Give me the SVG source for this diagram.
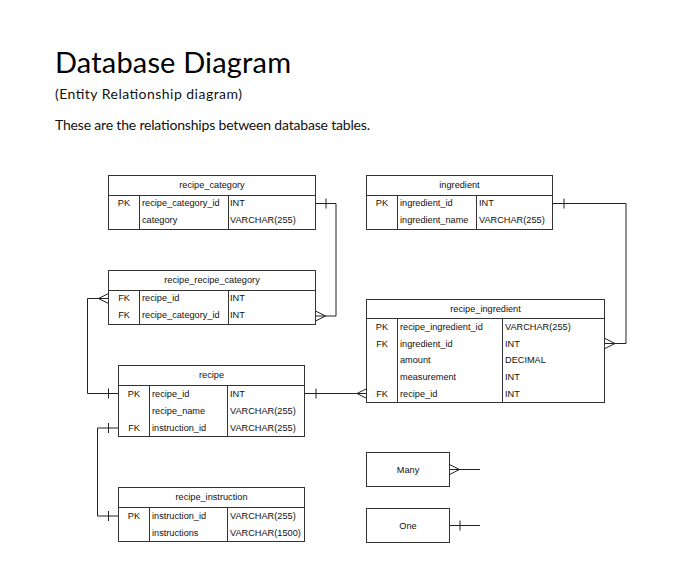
<svg xmlns="http://www.w3.org/2000/svg" width="699" height="583" viewBox="0 0 699 583">
<style>
.bg{fill:#ffffff}
.tb{fill:#ffffff;stroke:#333333;stroke-width:1}
.ln{stroke:#333333;stroke-width:1;fill:none}
.cn{stroke:#222222;stroke-width:1;fill:none}
.t{font-family:"Liberation Sans",Arial,sans-serif;font-size:9.2px;fill:#111111}
.c{text-anchor:middle}
.h1{font-family:Lato,"Open Sans",sans-serif;font-size:29px;fill:#000000}
.p{font-family:Lato,"Open Sans",sans-serif;font-size:14px;fill:#111111}
</style>
<rect class="bg" x="0" y="0" width="699" height="583"/>
<g id="title">
<text class="h1" x="55" y="73" textLength="236">Database Diagram</text>
<text class="p" x="55" y="99" textLength="187">(Entity Relationship diagram)</text>
<text class="p" x="55" y="130" textLength="315">These are the relationships between database tables.</text>
</g>
<g id="connectors">
<path class="cn" d="M315.5,203.5 H336 V316 H315.5"/>
<path class="cn" d="M326,198.5 V208.5"/>
<path class="cn" d="M315.5,311 L325.5,316 L315.5,321"/>
<path class="cn" d="M553,203.5 H626 V343.5 H605"/>
<path class="cn" d="M564,198.5 V208.5"/>
<path class="cn" d="M605,338.5 L615,343.5 L605,348.5"/>
<path class="cn" d="M118.5,393.5 H87.5 V298.5 H108.5"/>
<path class="cn" d="M108.5,388.5 V398.5"/>
<path class="cn" d="M108.5,293.5 L98.5,298.5 L108.5,303.5"/>
<path class="cn" d="M304,393.5 H367"/>
<path class="cn" d="M316,388.5 V398.5"/>
<path class="cn" d="M367,388.5 L357,393.5 L367,398.5"/>
<path class="cn" d="M118.5,428 H97.5 V516 H118.5"/>
<path class="cn" d="M108.5,423 V433"/>
<path class="cn" d="M108.5,511 V521"/>
<path class="cn" d="M449.5,469.5 H480"/>
<path class="cn" d="M449.5,464.5 L459.5,469.5 L449.5,474.5"/>
<path class="cn" d="M449.5,525.5 H480"/>
<path class="cn" d="M460,520.5 V530.5"/>
</g>
<g id="recipe_category">
<rect class="tb" x="108.5" y="175.5" width="207" height="54"/>
<path class="ln" d="M108.5,195.5 H315.5 M139.5,195.5 V229.5 M228.5,195.5 V229.5"/>
<text class="t c" x="212" y="188">recipe_category</text>
<text class="t c" x="124" y="206">PK</text>
<text class="t" x="142" y="206">recipe_category_id</text>
<text class="t" x="230" y="206">INT</text>
<text class="t" x="142" y="223">category</text>
<text class="t" x="230" y="223">VARCHAR(255)</text>
</g>
<g id="ingredient">
<rect class="tb" x="366.5" y="175.5" width="186" height="54"/>
<path class="ln" d="M366.5,195.5 H552.5 M397.5,195.5 V229.5 M476.5,195.5 V229.5"/>
<text class="t c" x="459.5" y="188">ingredient</text>
<text class="t c" x="382" y="206">PK</text>
<text class="t" x="400" y="206">ingredient_id</text>
<text class="t" x="479" y="206">INT</text>
<text class="t" x="400" y="223">ingredient_name</text>
<text class="t" x="479" y="223">VARCHAR(255)</text>
</g>
<g id="recipe_recipe_category">
<rect class="tb" x="108.5" y="270.5" width="207" height="54"/>
<path class="ln" d="M108.5,290.5 H315.5 M139.5,290.5 V324.5 M228.5,290.5 V324.5"/>
<text class="t c" x="212" y="283">recipe_recipe_category</text>
<text class="t c" x="124" y="301">FK</text>
<text class="t" x="142" y="301">recipe_id</text>
<text class="t" x="230" y="301">INT</text>
<text class="t c" x="124" y="318">FK</text>
<text class="t" x="142" y="318">recipe_category_id</text>
<text class="t" x="230" y="318">INT</text>
</g>
<g id="recipe_ingredient">
<rect class="tb" x="366.5" y="299.5" width="238" height="103"/>
<path class="ln" d="M366.5,318.5 H604.5 M397.5,318.5 V402.5 M502.5,318.5 V402.5"/>
<text class="t c" x="485.5" y="312">recipe_ingredient</text>
<text class="t c" x="382" y="330">PK</text>
<text class="t" x="400" y="330">recipe_ingredient_id</text>
<text class="t" x="505" y="330">VARCHAR(255)</text>
<text class="t c" x="382" y="347">FK</text>
<text class="t" x="400" y="347">ingredient_id</text>
<text class="t" x="505" y="347">INT</text>
<text class="t" x="400" y="363">amount</text>
<text class="t" x="505" y="363">DECIMAL</text>
<text class="t" x="400" y="380">measurement</text>
<text class="t" x="505" y="380">INT</text>
<text class="t c" x="382" y="396.5">FK</text>
<text class="t" x="400" y="396.5">recipe_id</text>
<text class="t" x="505" y="396.5">INT</text>
</g>
<g id="recipe">
<rect class="tb" x="118.5" y="365.5" width="186" height="71"/>
<path class="ln" d="M118.5,385.5 H304.5 M149.5,385.5 V436.5 M227.5,385.5 V436.5"/>
<text class="t c" x="211.5" y="378">recipe</text>
<text class="t c" x="134" y="397">PK</text>
<text class="t" x="152" y="397">recipe_id</text>
<text class="t" x="230" y="397">INT</text>
<text class="t" x="152" y="414">recipe_name</text>
<text class="t" x="230" y="414">VARCHAR(255)</text>
<text class="t c" x="134" y="431">FK</text>
<text class="t" x="152" y="431">instruction_id</text>
<text class="t" x="230" y="431">VARCHAR(255)</text>
</g>
<g id="recipe_instruction">
<rect class="tb" x="118.5" y="487.5" width="186" height="54"/>
<path class="ln" d="M118.5,507.5 H304.5 M149.5,507.5 V541.5 M227.5,507.5 V541.5"/>
<text class="t c" x="211.5" y="500">recipe_instruction</text>
<text class="t c" x="134" y="519">PK</text>
<text class="t" x="152" y="519">instruction_id</text>
<text class="t" x="230" y="519">VARCHAR(255)</text>
<text class="t" x="152" y="535.5">instructions</text>
<text class="t" x="230" y="535.5">VARCHAR(1500)</text>
</g>
<g id="many">
<rect class="tb" x="366.5" y="452.5" width="83" height="34"/>
<text class="t c" x="408" y="472.5">Many</text>
</g>
<g id="one">
<rect class="tb" x="366.5" y="508.5" width="83" height="34"/>
<text class="t c" x="408" y="528.5">One</text>
</g>
</svg>
